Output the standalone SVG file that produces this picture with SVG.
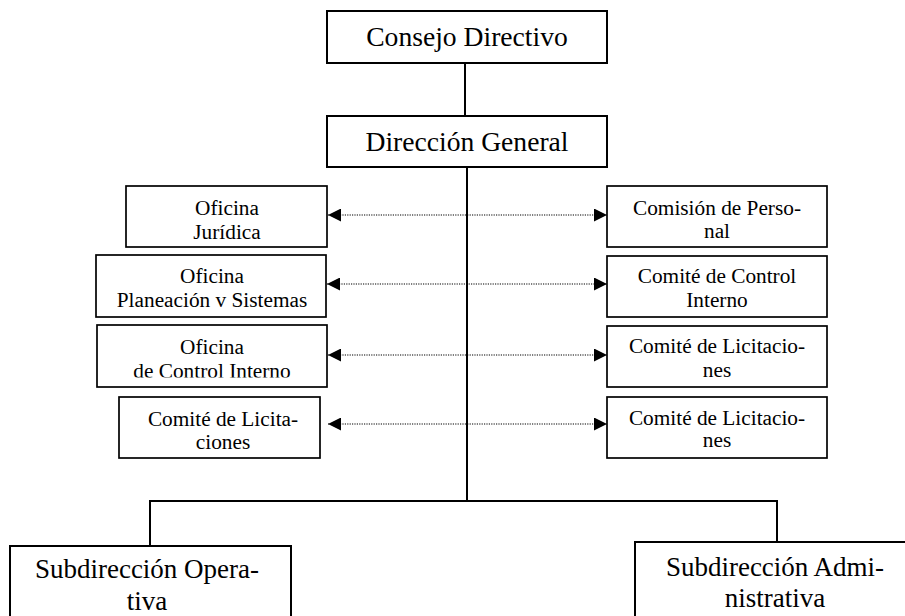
<svg xmlns="http://www.w3.org/2000/svg" width="905" height="616" viewBox="0 0 905 616">
<style>
.box{fill:#fff;stroke:#000;stroke-width:2}
.sbox{fill:#fff;stroke:#000;stroke-width:1.7}
text{font-family:'Liberation Serif','Times New Roman',Tinos,'DejaVu Serif',serif;fill:#000;text-anchor:middle}
.big{font-size:27.6px}
.sub{font-size:27px}
.sm{font-size:21.3px}
.ln{stroke:#000;stroke-width:2;fill:none}
.dot{stroke:#000;stroke-width:1.2;stroke-dasharray:1.2 1.2;fill:none;marker-start:url(#ah);marker-end:url(#ah)}
</style>
<defs>
<marker id="ah" viewBox="0 0 13 13" refX="13" refY="6.5" markerWidth="13" markerHeight="13" markerUnits="userSpaceOnUse" orient="auto-start-reverse">
<path d="M0,0 L13,6.5 L0,13 Z" fill="#000"/>
</marker>
<clipPath id="clipL3"><rect x="97" y="325" width="230" height="52.5"/></clipPath>
<clipPath id="clipR3"><rect x="607" y="326" width="220" height="51"/></clipPath>
</defs>
<rect width="905" height="616" fill="#fff"/>
<g id="connectors">
<line class="ln" x1="465" y1="63" x2="465" y2="116"/>
<line class="ln" x1="467" y1="167" x2="467" y2="501"/>
<polyline class="ln" points="150,546 150,501 777,501 777,542"/>
<line class="dot" x1="328" y1="215" x2="607" y2="215"/>
<line class="dot" x1="327" y1="284" x2="607" y2="284"/>
<line class="dot" x1="328" y1="355" x2="607" y2="355"/>
<line class="dot" x1="328" y1="424" x2="607" y2="424"/>
</g>
<g id="consejo">
<rect class="box" x="327" y="11" width="280" height="52"/>
<text class="big" x="467" y="46" font-family="Liberation Serif, serif">Consejo Directivo</text>
</g>
<g id="direccion">
<rect class="box" x="327" y="116" width="280" height="51"/>
<text class="big" x="467" y="151">Dirección General</text>
</g>
<g id="of-juridica">
<rect class="sbox" x="126" y="186" width="201" height="61"/>
<text class="sm" x="227" y="215">Oficina</text>
<text class="sm" x="227" y="239">Jurídica</text>
</g>
<g id="of-planeacion">
<rect class="sbox" x="96" y="255" width="230" height="62"/>
<text class="sm" x="212" y="283">Oficina</text>
<text class="sm" x="212" y="307">Planeación v Sistemas</text>
</g>
<g id="of-control">
<rect class="sbox" x="97" y="325" width="230" height="62"/>
<g clip-path="url(#clipL3)">
<text class="sm" x="212" y="354">Oficina</text>
<text class="sm" x="212" y="378">de Control Interno</text>
</g>
</g>
<g id="comite-lic-left">
<rect class="sbox" x="119" y="397" width="201" height="61"/>
<text class="sm" x="223" y="426">Comité de Licita-</text>
<text class="sm" x="223" y="449">ciones</text>
</g>
<g id="comision-personal">
<rect class="sbox" x="607" y="186" width="220" height="61"/>
<text class="sm" x="717" y="215">Comisión de Perso-</text>
<text class="sm" x="717" y="238">nal</text>
</g>
<g id="comite-control">
<rect class="sbox" x="607" y="256" width="220" height="61"/>
<text class="sm" x="717" y="283">Comité de Control</text>
<text class="sm" x="717" y="307">Interno</text>
</g>
<g id="comite-lic-r1">
<rect class="sbox" x="607" y="326" width="220" height="61"/>
<g clip-path="url(#clipR3)">
<text class="sm" x="717" y="353">Comité de Licitacio-</text>
<text class="sm" x="717" y="377">nes</text>
</g>
</g>
<g id="comite-lic-r2">
<rect class="sbox" x="607" y="397" width="220" height="61"/>
<text class="sm" x="717" y="425">Comité de Licitacio-</text>
<text class="sm" x="717" y="447">nes</text>
</g>
<g id="sub-operativa">
<rect class="box" x="10" y="546" width="281" height="80"/>
<text class="sub" x="147" y="578">Subdirección Opera-</text>
<text class="sub" x="147" y="610">tiva</text>
</g>
<g id="sub-administrativa">
<rect class="box" x="635" y="542" width="282" height="84"/>
<text class="sub" x="775" y="576">Subdirección Admi-</text>
<text class="sub" x="775" y="607">nistrativa</text>
</g>
</svg>
